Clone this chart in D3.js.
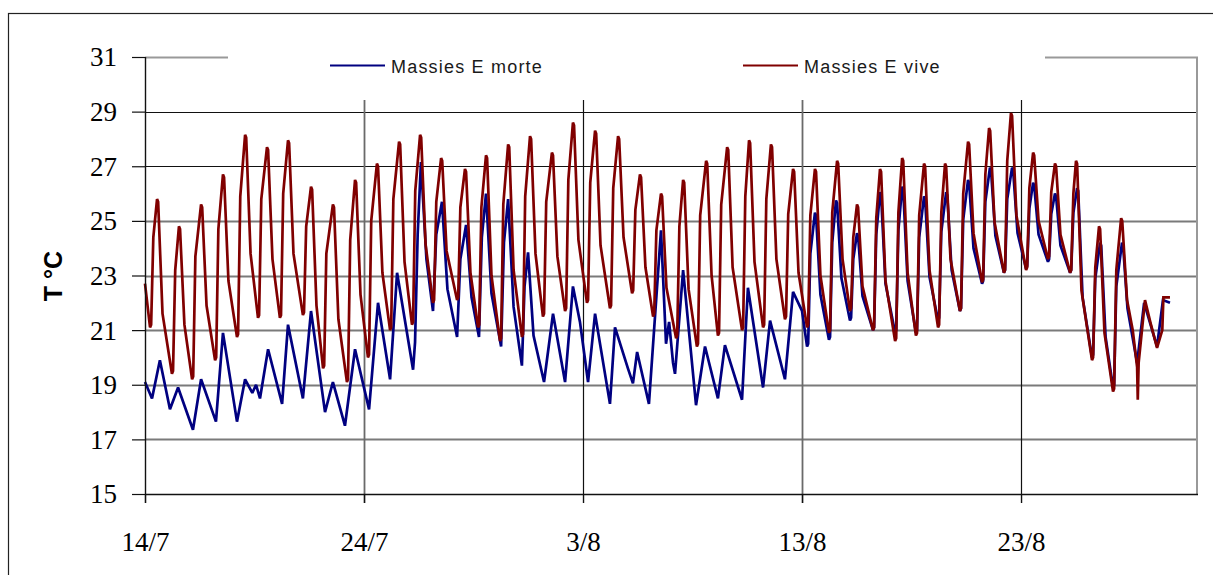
<!DOCTYPE html>
<html>
<head>
<meta charset="utf-8">
<script src="https://cdn.jsdelivr.net/npm/d3@7"></script>
<style>
  body { margin: 0; background: white; }
  svg { display: block; }
</style>
</head>
<body>
<script>
/**
 * Temperature records, Massies E (dead vs living), 14/7 -> 30/8
 * x = days after 14/7, y = temperature in °C
 */

const seriesNames = ["Massies E morte", "Massies E vive"];

// blue series
const morte = [
    [0.00, 19.1], [0.32, 18.5], [0.68, 19.9], [1.14, 18.1], [1.51, 18.9],
    [2.19, 17.35], [2.56, 19.2], [3.24, 17.65], [3.56, 20.9], [4.20, 17.65],
    [4.57, 19.2], [4.90, 18.7], [5.07, 19.0], [5.25, 18.5], [5.62, 20.3],
    [6.26, 18.3], [6.53, 21.2], [7.21, 18.5], [7.58, 21.7], [8.22, 18.0],
    [8.58, 19.1], [9.13, 17.5], [9.59, 20.3], [10.23, 18.1], [10.64, 22.0],
    [11.19, 19.2], [11.51, 23.1], [12.24, 19.55], [12.33, 20.55], [12.45, 24.5],
    [12.60, 27.15], [12.85, 23.6], [13.15, 21.7], [13.30, 24.5], [13.56, 25.7],
    [13.81, 22.5], [14.25, 20.75], [14.40, 23.6], [14.66, 24.85], [14.91, 22.2],
    [15.25, 20.75], [15.38, 24.4], [15.57, 26.0], [15.82, 22.35], [16.26, 20.4],
    [16.39, 24.2], [16.58, 25.8], [16.83, 21.85], [17.21, 19.7], [17.33, 22.6],
    [17.49, 23.85], [17.74, 20.8], [18.22, 19.1], [18.63, 21.6], [19.18, 19.1],
    [19.54, 22.6], [19.86, 21.3], [20.23, 19.1], [20.55, 21.6], [21.23, 18.3],
    [21.46, 21.1], [22.05, 19.6], [22.28, 19.05], [22.47, 20.2], [23.01, 18.3],
    [23.56, 24.65], [23.79, 20.5], [23.93, 21.3], [24.11, 19.8], [24.20, 19.4],
    [24.57, 23.2], [25.16, 18.25], [25.57, 20.4], [26.16, 18.5], [26.48, 20.45],
    [27.26, 18.45], [27.53, 22.55], [28.22, 18.9], [28.54, 21.35], [29.22, 19.2],
    [29.59, 22.4], [30.00, 21.7],
    [30.23, 20.4], [30.28, 20.5], [30.38, 23.8], [30.59, 25.3], [30.64, 25.2], [30.84, 22.3],
    [31.23, 20.65], [31.28, 20.75], [31.38, 24.2], [31.55, 25.75], [31.60, 25.65], [31.80, 22.9],
    [32.19, 21.35], [32.24, 21.45], [32.34, 23.6], [32.51, 24.55], [32.56, 24.45], [32.76, 22.25],
    [33.24, 21.0], [33.29, 21.1], [33.39, 24.5], [33.56, 26.05], [33.61, 25.95], [33.81, 22.7],
    [34.25, 20.9], [34.30, 21.0], [34.40, 24.65], [34.57, 26.25], [34.62, 26.15], [34.82, 22.8],
    [35.20, 20.9], [35.25, 21.0], [35.35, 24.4], [35.57, 25.9], [35.62, 25.8], [35.82, 22.95],
    [36.21, 21.35], [36.26, 21.45], [36.36, 24.6], [36.58, 26.05], [36.63, 25.95], [36.83, 23.2],
    [37.21, 21.7], [37.26, 21.8], [37.36, 25.05], [37.58, 26.5], [37.63, 26.4], [37.83, 24.0],
    [38.22, 22.7], [38.27, 22.8], [38.37, 25.7], [38.58, 26.95], [38.63, 26.85], [38.83, 24.45],
    [39.22, 23.1], [39.27, 23.2], [39.37, 25.8], [39.59, 26.95], [39.64, 26.85], [39.84, 24.55],
    [40.23, 23.25], [40.28, 23.35], [40.38, 25.45], [40.55, 26.4], [40.60, 26.3], [40.80, 24.5],
    [41.23, 23.5], [41.28, 23.6], [41.38, 25.25], [41.55, 26.0], [41.60, 25.9], [41.80, 24.1],
    [42.24, 23.1], [42.29, 23.2], [42.39, 25.3], [42.56, 26.2], [42.61, 26.1], [42.81, 22.2],
    [43.24, 20.0], [43.29, 20.1], [43.39, 22.9], [43.61, 24.2], [43.66, 24.1], [43.86, 20.75],
    [44.20, 18.9], [44.25, 19.0], [44.35, 22.6], [44.61, 24.2], [44.66, 24.1], [44.86, 21.8],
    [45.30, 19.8], [45.62, 22.0], [46.21, 20.4], [46.48, 22.1], [46.80, 22.0]
];

// red series
const vive = [
    [0.00, 22.7],
    [0.23, 21.1], [0.28, 21.2], [0.38, 24.4], [0.55, 25.8], [0.60, 25.7], [0.80, 21.6],
    [1.23, 19.4], [1.28, 19.5], [1.38, 23.2], [1.55, 24.8], [1.60, 24.7], [1.80, 21.2],
    [2.15, 19.2], [2.20, 19.3], [2.30, 23.7], [2.56, 25.6], [2.61, 25.5], [2.81, 21.9],
    [3.20, 19.9], [3.25, 20.0], [3.35, 24.7], [3.56, 26.7], [3.61, 26.6], [3.81, 22.8],
    [4.20, 20.75], [4.25, 20.85], [4.35, 25.9], [4.57, 28.15], [4.62, 28.05], [4.82, 23.8],
    [5.16, 21.45], [5.21, 21.55], [5.31, 25.8], [5.57, 27.7], [5.62, 27.6], [5.82, 23.6],
    [6.16, 21.45], [6.21, 21.55], [6.31, 26.0], [6.53, 27.95], [6.58, 27.85], [6.78, 23.8],
    [7.21, 21.55], [7.26, 21.65], [7.36, 24.8], [7.58, 26.25], [7.63, 26.15], [7.83, 21.9],
    [8.13, 19.6], [8.18, 19.7], [8.28, 23.8], [8.58, 25.6], [8.63, 25.5], [8.83, 21.4],
    [9.22, 19.1], [9.27, 19.2], [9.37, 24.3], [9.59, 26.5], [9.64, 26.4], [9.84, 22.3],
    [10.18, 20.0], [10.23, 20.1], [10.33, 25.0], [10.59, 27.1], [10.64, 27.0], [10.84, 23.1],
    [11.19, 21.0], [11.24, 21.1], [11.34, 25.8], [11.60, 27.9], [11.65, 27.8], [11.85, 23.5],
    [12.19, 21.2], [12.24, 21.3], [12.34, 26.1], [12.56, 28.15], [12.61, 28.05], [12.81, 24.15],
    [13.15, 22.0], [13.20, 22.1], [13.30, 25.7], [13.52, 27.3], [13.57, 27.2], [13.77, 23.9],
    [14.25, 22.1], [14.30, 22.2], [14.40, 25.5], [14.61, 26.9], [14.66, 26.8], [14.86, 23.1],
    [15.21, 21.1], [15.26, 21.2], [15.36, 25.5], [15.57, 27.4], [15.62, 27.3], [15.82, 23.0],
    [16.21, 20.6], [16.26, 20.7], [16.36, 25.6], [16.58, 27.8], [16.63, 27.7], [16.83, 23.2],
    [17.21, 20.75], [17.26, 20.85], [17.36, 25.9], [17.58, 28.1], [17.63, 28.0], [17.83, 23.8],
    [18.17, 21.5], [18.22, 21.6], [18.32, 25.7], [18.58, 27.5], [18.63, 27.4], [18.83, 23.7],
    [19.18, 21.7], [19.23, 21.8], [19.33, 26.5], [19.54, 28.6], [19.59, 28.5], [19.79, 24.3],
    [20.18, 22.0], [20.23, 22.1], [20.33, 26.4], [20.55, 28.3], [20.60, 28.2], [20.80, 24.1],
    [21.23, 21.8], [21.28, 21.9], [21.38, 26.2], [21.60, 28.1], [21.65, 28.0], [21.85, 24.4],
    [22.24, 22.35], [22.29, 22.45], [22.39, 25.4], [22.60, 26.7], [22.65, 26.6], [22.85, 23.3],
    [23.20, 21.5], [23.25, 21.6], [23.35, 24.65], [23.56, 26.0], [23.61, 25.9], [23.81, 22.55],
    [24.25, 20.7], [24.30, 20.8], [24.40, 24.8], [24.57, 26.5], [24.62, 26.4], [24.82, 22.5],
    [25.20, 20.4], [25.25, 20.5], [25.35, 25.2], [25.62, 27.2], [25.67, 27.1], [25.87, 23.0],
    [26.16, 20.8], [26.21, 20.9], [26.31, 25.6], [26.58, 27.7], [26.63, 27.6], [26.83, 23.3],
    [27.26, 21.0], [27.31, 21.1], [27.41, 25.9], [27.58, 27.95], [27.63, 27.85], [27.83, 23.5],
    [28.22, 21.1], [28.27, 21.2], [28.37, 25.8], [28.58, 27.8], [28.63, 27.7], [28.83, 23.6],
    [29.22, 21.4], [29.27, 21.5], [29.37, 25.25], [29.59, 26.9], [29.64, 26.8], [29.84, 23.1],
    [30.23, 21.1], [30.28, 21.2], [30.38, 25.2], [30.59, 26.9], [30.64, 26.8], [30.84, 23.0],
    [31.23, 20.9], [31.28, 21.0], [31.38, 25.3], [31.60, 27.2], [31.65, 27.1], [31.85, 23.6],
    [32.19, 21.7], [32.24, 21.8], [32.34, 24.4], [32.51, 25.6], [32.56, 25.5], [32.76, 22.6],
    [33.24, 21.0], [33.29, 21.1], [33.39, 25.1], [33.56, 26.9], [33.61, 26.8], [33.81, 22.8],
    [34.25, 20.6], [34.30, 20.7], [34.40, 25.3], [34.57, 27.3], [34.62, 27.2], [34.82, 23.1],
    [35.20, 20.8], [35.25, 20.9], [35.35, 25.2], [35.57, 27.1], [35.62, 27.0], [35.82, 23.2],
    [36.21, 21.1], [36.26, 21.2], [36.36, 25.3], [36.53, 27.1], [36.58, 27.0], [36.78, 23.6],
    [37.21, 21.7], [37.26, 21.8], [37.36, 26.0], [37.58, 27.9], [37.63, 27.8], [37.83, 24.55],
    [38.22, 22.75], [38.27, 22.85], [38.37, 26.7], [38.54, 28.4], [38.59, 28.3], [38.79, 24.95],
    [39.22, 23.1], [39.27, 23.2], [39.37, 27.2], [39.54, 28.95], [39.59, 28.85], [39.79, 25.2],
    [40.23, 23.2], [40.28, 23.3], [40.38, 26.2], [40.55, 27.5], [40.60, 27.4], [40.80, 25.0],
    [41.23, 23.6], [41.28, 23.7], [41.38, 26.05], [41.55, 27.1], [41.60, 27.0], [41.80, 24.5],
    [42.24, 23.1], [42.29, 23.2], [42.39, 26.0], [42.51, 27.2], [42.56, 27.1], [42.76, 22.45],
    [43.24, 19.9], [43.29, 20.0], [43.39, 23.3], [43.56, 24.8], [43.61, 24.7], [43.81, 20.9],
    [44.20, 18.75], [44.25, 18.85], [44.35, 23.2], [44.57, 25.1], [44.62, 25.0], [44.84, 22.1],
    [45.10, 21.0], [45.30, 19.65], [45.33, 18.45], [45.37, 19.8], [45.66, 22.1], [45.90, 21.3],
    [46.21, 20.35], [46.45, 21.0], [46.50, 22.2], [46.80, 22.2]
];

const tickDays = [0, 10, 20, 30, 40];
const tickLabels = ["14/7", "24/7", "3/8", "13/8", "23/8"];
const yTicks = [15, 17, 19, 21, 23, 25, 27, 29, 31];

const WIDTH = 1213;
const HEIGHT = 575;

const LEFT = 145, RIGHT = 1198;   // plot area
const TOP = 57, BOTTOM = 494;

const COLORS = ["#000080", "#800000"];

const svg = d3.select("body").append("svg")
    .attr("width", WIDTH)
    .attr("height", HEIGHT);

svg.append("rect")
    .attr("width", WIDTH).attr("height", HEIGHT)
    .attr("fill", "white");

// outer frame (runs off the right and bottom edges)
svg.append("rect")
    .attr("x", 8.5).attr("y", 13.5)
    .attr("width", 1220).attr("height", 600)
    .attr("fill", "none")
    .attr("stroke", "#222")
    .attr("stroke-width", 1.2);

const x = d3.scaleLinear().domain([0, 48.08]).range([LEFT, RIGHT]);
const y = d3.scaleLinear().domain([15, 31]).range([BOTTOM, TOP]);

// horizontal grid (lower ones render grey in the original)
const softY = [17, 19, 21, 23, 25];
svg.append("g")
    .selectAll("line")
    .data(yTicks.filter(v => v > 15 && v < 31))
    .join("line")
    .attr("x1", LEFT).attr("x2", RIGHT)
    .attr("y1", d => Math.round(y(d)) + 0.5)
    .attr("y2", d => Math.round(y(d)) + 0.5)
    .attr("stroke", d => softY.includes(d) ? "#7a7a7a" : "#111")
    .attr("stroke-width", d => softY.includes(d) ? 2 : 1.2);

// vertical grid
const softX = [10, 30];
svg.append("g")
    .selectAll("line")
    .data(tickDays.slice(1))
    .join("line")
    .attr("x1", d => Math.round(x(d)) + 0.5)
    .attr("x2", d => Math.round(x(d)) + 0.5)
    .attr("y1", 100).attr("y2", BOTTOM + 9)
    .attr("stroke", d => softX.includes(d) ? "#6a6a6a" : "#111")
    .attr("stroke-width", d => softX.includes(d) ? 1.8 : 1.2);

// plot border, top and right, grey
svg.append("path")
    .attr("d", `M${LEFT},${TOP + 0.5}H${RIGHT - 1}V${BOTTOM}`)
    .attr("fill", "none")
    .attr("stroke", "#999")
    .attr("stroke-width", 2);

// series
const line = d3.line()
    .x(d => x(d[0]))
    .y(d => y(d[1]));

[morte, vive].forEach((s, i) => {
    svg.append("path")
        .datum(s)
        .attr("d", line)
        .attr("fill", "none")
        .attr("stroke", COLORS[i])
        .attr("stroke-width", 2.7)
        .attr("stroke-linejoin", "miter")
        .attr("stroke-miterlimit", 2);
});

// legend box hides the middle of the top border
svg.append("rect")
    .attr("x", 228).attr("y", 38)
    .attr("width", 1045 - 228).attr("height", 62)
    .attr("fill", "white");

const legendX = [330, 743];
seriesNames.forEach((name, i) => {
    svg.append("line")
        .attr("x1", legendX[i]).attr("x2", legendX[i] + 55)
        .attr("y1", 65.5).attr("y2", 65.5)
        .attr("stroke", COLORS[i])
        .attr("stroke-width", 2);
    svg.append("text")
        .attr("x", legendX[i] + 61)
        .attr("y", 73)
        .attr("font-family", "Liberation Sans, Arial, sans-serif")
        .attr("font-size", 18)
        .attr("letter-spacing", 1.2)
        .attr("fill", "#1a1a1a")
        .text(name);
});

// axes
const yAxis = svg.append("g")
    .attr("transform", `translate(${LEFT},0)`)
    .call(d3.axisLeft(y).tickValues(yTicks).tickSize(13).tickPadding(15));

const xAxis = svg.append("g")
    .attr("transform", `translate(0,${BOTTOM})`)
    .call(d3.axisBottom(x).tickValues(tickDays).tickSize(9).tickPadding(29)
        .tickFormat((d, i) => tickLabels[i]));

[yAxis, xAxis].forEach(a => {
    a.select(".domain").remove();
    a.selectAll("line").attr("stroke", "#111").attr("stroke-width", 1.2);
    a.selectAll("text")
        .attr("font-family", "Liberation Serif, Times New Roman, serif")
        .attr("font-size", 27)
        .attr("fill", "#000");
});
yAxis.selectAll("text").attr("dy", "0.33em");

svg.append("line")
    .attr("x1", LEFT + 0.5).attr("x2", LEFT + 0.5)
    .attr("y1", TOP).attr("y2", BOTTOM + 9)
    .attr("stroke", "#111").attr("stroke-width", 1.4);
svg.append("line")
    .attr("x1", LEFT).attr("x2", RIGHT)
    .attr("y1", BOTTOM + 0.5).attr("y2", BOTTOM + 0.5)
    .attr("stroke", "#111").attr("stroke-width", 1.4);

// y title
svg.append("text")
    .attr("transform", "translate(62,276) rotate(-90)")
    .attr("text-anchor", "middle")
    .attr("font-family", "Liberation Sans, Arial, sans-serif")
    .attr("font-weight", "bold")
    .attr("font-size", 25)
    .text("T °C");
</script>
</body>
</html>
